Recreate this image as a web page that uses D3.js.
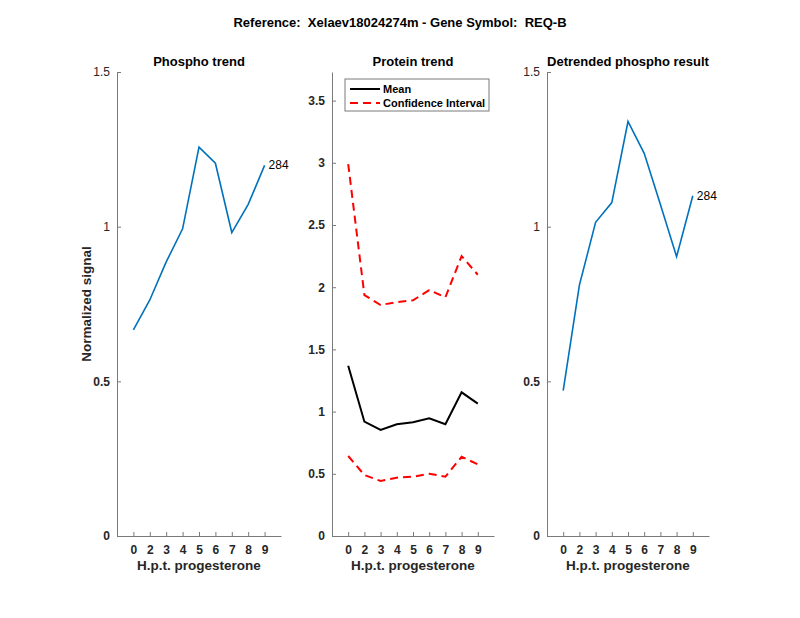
<!DOCTYPE html>
<html>
<head>
<meta charset="utf-8">
<script src="https://cdn.jsdelivr.net/npm/d3@7"></script>
<style>
  body { margin: 0; background: #fff; }
  text { font-family: "Liberation Sans", Arial, sans-serif; }
</style>
</head>
<body>
<div id="chart"></div>
<script>
// data
const hours = ["0", "2", "3", "4", "5", "6", "7", "8", "9"];
const phospho = [0.666, 0.763, 0.886, 0.993, 1.257, 1.205, 0.981, 1.072, 1.198];
const proteinMean = [1.369, 0.919, 0.852, 0.898, 0.914, 0.946, 0.898, 1.155, 1.064];
const ciUpper = [2.99, 1.937, 1.857, 1.88, 1.894, 1.977, 1.919, 2.25, 2.10];
const ciLower = [0.643, 0.49, 0.442, 0.469, 0.477, 0.50, 0.477, 0.637, 0.576];
const detrended = [0.470, 0.811, 1.014, 1.078, 1.340, 1.237, 1.072, 0.903, 1.100];
const phosphoTicks = [0, 0.5, 1, 1.5];
const proteinTicks = [0, 0.5, 1, 1.5, 2, 2.5, 3, 3.5];
const peptideLabel = "284";

const W = 800, H = 618;
const svg = d3.select("#chart").append("svg")
    .attr("width", W)
    .attr("height", H);

const axisColor = "#7a7a7a";
const textColor = "#262626";

// main title (keep the double spaces)
svg.append("text")
    .attr("x", 400)
    .attr("y", 27)
    .attr("text-anchor", "middle")
    .attr("font-size", 13)
    .attr("font-weight", "bold")
    .attr("fill", "#000")
    .style("white-space", "pre")
    .text("Reference:  Xelaev18024274m - Gene Symbol:  REQ-B");

function panel(left, right, yMax, yTicks, title, boldY) {
  const top = 72, bottom = 536;
  const g = svg.append("g");
  const x = d3.scaleLinear().domain([0, 10]).range([left, right]);
  const y = d3.scaleLinear().domain([0, yMax]).range([bottom, top]);

  // x axis
  const xAxis = g.append("g")
      .attr("transform", "translate(0," + bottom + ")")
      .call(d3.axisBottom(x)
          .tickValues(d3.range(1, hours.length + 1))
          .tickFormat(function(d) { return hours[d - 1]; })
          .tickSizeInner(-4).tickSizeOuter(0).tickPadding(9));
  xAxis.select(".domain").attr("stroke", axisColor);
  xAxis.selectAll(".tick line").attr("stroke", axisColor);
  xAxis.selectAll(".tick text")
      .attr("font-size", 12)
      .attr("font-weight", "bold")
      .attr("fill", textColor);

  // y axis
  const yAxis = g.append("g")
      .attr("transform", "translate(" + left + ",0)")
      .call(d3.axisLeft(y)
          .tickValues(yTicks)
          .tickFormat(d3.format("~g"))
          .tickSizeInner(-4).tickSizeOuter(0).tickPadding(7));
  yAxis.select(".domain").attr("stroke", axisColor);
  yAxis.selectAll(".tick line").attr("stroke", axisColor);
  yAxis.selectAll(".tick text")
      .attr("font-size", 12)
      .attr("font-weight", function(d) { return boldY(d) ? "bold" : "normal"; })
      .attr("fill", textColor);

  // subplot title
  g.append("text")
      .attr("x", (left + right) / 2)
      .attr("y", 66)
      .attr("text-anchor", "middle")
      .attr("font-size", 13)
      .attr("font-weight", "bold")
      .attr("fill", "#000")
      .text(title);

  // x label
  g.append("text")
      .attr("x", (left + right) / 2)
      .attr("y", 570)
      .attr("text-anchor", "middle")
      .attr("font-size", 13.5)
      .attr("font-weight", "bold")
      .attr("fill", textColor)
      .text("H.p.t. progesterone");

  return {g: g, x: x, y: y};
}

function drawLine(p, values, color, width, dash) {
  const line = d3.line()
      .x(function(d, i) { return p.x(i + 1); })
      .y(function(d) { return p.y(d); });
  p.g.append("path")
      .datum(values)
      .attr("fill", "none")
      .attr("stroke", color)
      .attr("stroke-width", width)
      .attr("stroke-dasharray", dash || null)
      .attr("d", line);
}

function endLabel(p, values) {
  const n = values.length;
  p.g.append("text")
      .attr("x", p.x(n) + 4)
      .attr("y", p.y(values[n - 1]) + 4)
      .attr("font-size", 12)
      .attr("fill", "#000")
      .text(peptideLabel);
}

// left: phospho trend
const p1 = panel(117, 281, 1.5, phosphoTicks, "Phospho trend", function(d) { return d < 1; });
drawLine(p1, phospho, "#0072BD", 1.6);
endLabel(p1, phospho);
p1.g.append("text")
    .attr("transform", "translate(91,304) rotate(-90)")
    .attr("text-anchor", "middle")
    .attr("font-size", 13.5)
    .attr("font-weight", "bold")
    .attr("fill", textColor)
    .text("Normalized signal");

// middle: protein trend
const p2 = panel(332, 494, 3.73, proteinTicks, "Protein trend", function() { return true; });
drawLine(p2, ciUpper, "#ff0000", 2, "8,5");
drawLine(p2, ciLower, "#ff0000", 2, "8,5");
drawLine(p2, proteinMean, "#000", 2);

// legend
const lg = p2.g.append("g").attr("transform", "translate(345,79)");
lg.append("rect")
    .attr("width", 144).attr("height", 32)
    .attr("fill", "#fff")
    .attr("stroke", axisColor)
    .attr("stroke-width", 1);
const legendItems = [
  {name: "Mean", color: "#000", dash: null},
  {name: "Confidence Interval", color: "#ff0000", dash: "8,5"}
];
legendItems.forEach(function(item, i) {
  const yy = 10 + i * 14;
  lg.append("line")
      .attr("x1", 5).attr("x2", 35)
      .attr("y1", yy).attr("y2", yy)
      .attr("stroke", item.color)
      .attr("stroke-width", 2)
      .attr("stroke-dasharray", item.dash);
  lg.append("text")
      .attr("x", 38).attr("y", yy + 4)
      .attr("font-size", 11)
      .attr("font-weight", "bold")
      .attr("fill", "#000")
      .text(item.name);
});

// right: detrended phospho
const p3 = panel(547, 709, 1.5, phosphoTicks, "Detrended phospho result", function(d) { return d < 1; });
drawLine(p3, detrended, "#0072BD", 1.6);
endLabel(p3, detrended);
</script>
</body>
</html>
